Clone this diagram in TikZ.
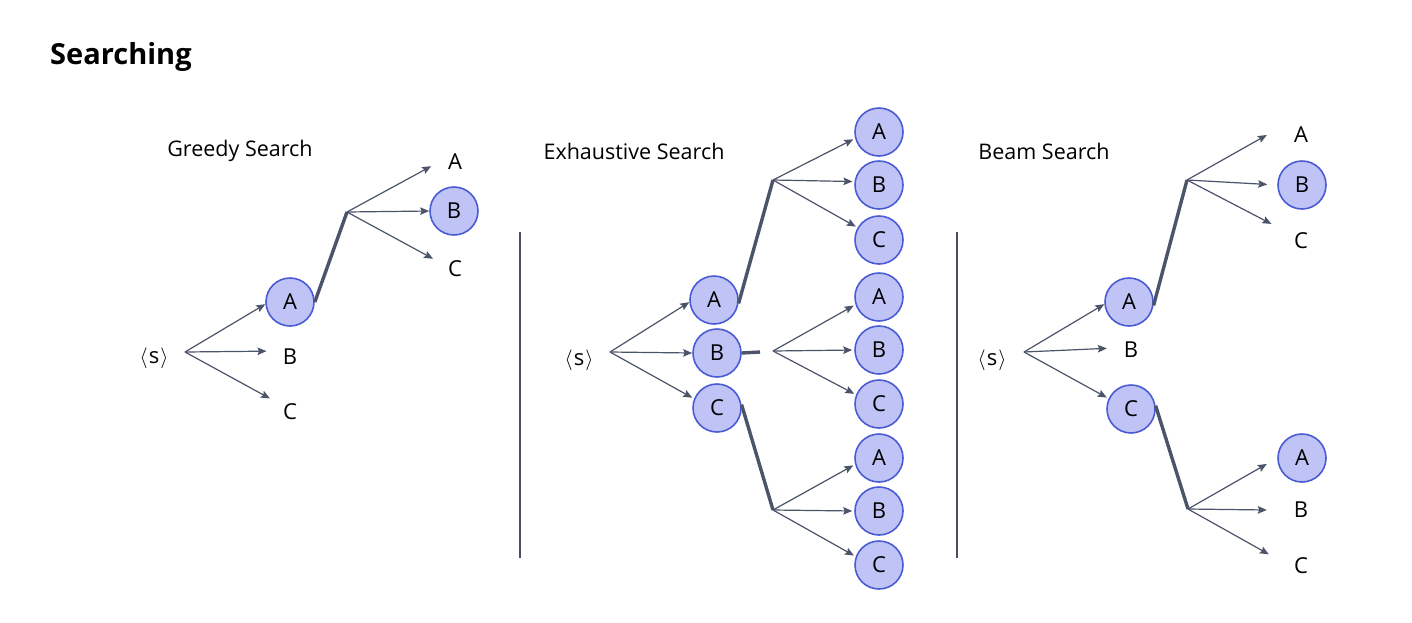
\documentclass[tikz,border=0pt]{standalone}
\usepackage{fontspec}
\setmainfont{Open Sans}
\usetikzlibrary{arrows.meta}
\definecolor{nodefill}{HTML}{BFC3F6}
\definecolor{nodeline}{HTML}{4A5CD4}
\definecolor{arrowc}{HTML}{4B5468}
\definecolor{sepc}{HTML}{4A5060}
\begin{document}
\begin{tikzpicture}[x=1pt,y=-1pt,
  sel/.style={circle,draw=nodeline,fill=nodefill,line width=1.6pt,minimum size=48pt,inner sep=0pt,font=\fontsize{22}{24}\selectfont},
  unsel/.style={circle,minimum size=48pt,inner sep=0pt,font=\fontsize{22}{24}\selectfont},
  unselwide/.style={circle,minimum size=68pt,inner sep=0pt,font=\fontsize{22}{24}\selectfont},
  start/.style={inner sep=0pt,font=\fontsize{22}{24}\selectfont},
  heading/.style={inner sep=0pt,font=\fontsize{21.5}{24}\selectfont},
  arr/.style={draw=arrowc,line width=1.2pt,-{Stealth[length=9pt,width=7.5pt,inset=1.5pt]}},
  chosen/.style={draw=arrowc,line width=3.4pt},
  sepline/.style={draw=sepc,line width=2.8pt}]
\useasboundingbox (0,0) rectangle (1412,622);
\fill[white] (0,0) rectangle (1412,622);

\node[anchor=west,inner sep=0pt,font=\bfseries\fontsize{29}{32}\selectfont] (title) at (50,57) {Searching};

% ---------------- Greedy ----------------
\node[heading] (gt) at (240,151) {Greedy Search};
\node[start] (gs) at (154,358) {$\langle$\kern1pt s\kern1pt$\rangle$};
\coordinate (g0) at (185,352);
\node[sel] (gA) at (290,302) {A};
\node[unsel] (gB) at (290,357) {B};
\node[unsel] (gC) at (290,412) {C};
\draw[arr] (g0) -- (gA.185);
\draw[arr] (g0) -- (gB.166);
\draw[arr] (g0) -- (gC.146);
\coordinate (g1) at (347,212);
\draw[chosen] (gA.east) -- (g1);
\node[unsel] (gA2) at (455,162) {A};
\node[sel] (gB2) at (454,211) {B};
\node[unsel] (gC2) at (455,269) {C};
\draw[arr] (g1) -- (gA2.190);
\draw[arr] (g1) -- (gB2.180);
\draw[arr] (g1) -- (gC2.155);

\coordinate (s1t) at (520,232);
\coordinate (s1b) at (520,558);
\draw[sepline] (s1t) -- (s1b);

% ---------------- Exhaustive ----------------
\node[heading] (et) at (634,151) {Exhaustive Search};
\node[start] (es) at (579,360) {$\langle$\kern1pt s\kern1pt$\rangle$};
\coordinate (e0) at (610,352);
\node[sel] (eA) at (714,300) {A};
\node[sel] (eB) at (717,353) {B};
\node[sel] (eC) at (717,408) {C};
\draw[arr] (e0) -- (eA.185);
\draw[arr] (e0) -- (eB.180);
\draw[arr,shorten >=2pt] (e0) -- (eC.158);
\coordinate (e1) at (773,180);
\coordinate (e2) at (773,351);
\coordinate (e3) at (773,510);
\coordinate (eBs) at (760,352);
\draw[chosen] (eA.-8) -- (e1);
\draw[chosen] (eB.east) -- (eBs);
\draw[chosen] (eC.8) -- (e3);
\node[sel] (eA1) at (879,132) {A};
\node[sel] (eB1) at (879,185) {B};
\node[sel] (eC1) at (879,240) {C};
\draw[arr,shorten >=2pt] (e1) -- (eA1.195);
\draw[arr,shorten >=2pt] (e1) -- (eB1.172);
\draw[arr,shorten >=2pt] (e1) -- (eC1.150);
\node[sel] (eA2) at (879,297) {A};
\node[sel] (eB2) at (879,350) {B};
\node[sel] (eC2) at (879,404) {C};
\draw[arr,shorten >=2pt] (e2) -- (eA2.198);
\draw[arr,shorten >=2pt] (e2) -- (eB2.180);
\draw[arr,shorten >=2pt] (e2) -- (eC2.158);
\node[sel] (eA3) at (879,458) {A};
\node[sel] (eB3) at (879,511) {B};
\node[sel] (eC3) at (879,565) {C};
\draw[arr,shorten >=2pt] (e3) -- (eA3.195);
\draw[arr,shorten >=2pt] (e3) -- (eB3.180);
\draw[arr,shorten >=2pt] (e3) -- (eC3.160);

\coordinate (s2t) at (957,232);
\coordinate (s2b) at (957,558);
\draw[sepline] (s2t) -- (s2b);

% ---------------- Beam ----------------
\node[heading] (bt) at (1044,151) {Beam Search};
\node[start] (bs) at (992,360) {$\langle$\kern1pt s\kern1pt$\rangle$};
\coordinate (b0) at (1024,352);
\node[sel] (bA) at (1129,302) {A};
\node[unsel] (bB) at (1131,350) {B};
\node[sel] (bC) at (1131,409) {C};
\draw[arr] (b0) -- (bA.185);
\draw[arr] (b0) -- (bB.176);
\draw[arr,shorten >=2pt] (b0) -- (bC.155);
\coordinate (b1) at (1187,180);
\coordinate (b2) at (1188,509);
\draw[chosen] (bA.-8) -- (b1);
\draw[chosen] (bC.8) -- (b2);
\node[unselwide] (bA1) at (1301,135) {A};
\node[sel] (bB1) at (1302,185) {B};
\node[unselwide] (bC1) at (1301,241) {C};
\draw[arr] (b1) -- (bA1.180);
\draw[arr,shorten >=10pt] (b1) -- (bB1.180);
\draw[arr] (b1) -- (bC1.150);
\node[sel] (bA2) at (1302,458) {A};
\node[unselwide] (bB2) at (1301,510) {B};
\node[unselwide] (bC2) at (1301,566) {C};
\draw[arr,shorten >=12pt] (b2) -- (bA2.180);
\draw[arr] (b2) -- (bB2.180);
\draw[arr] (b2) -- (bC2.160);
\end{tikzpicture}
\end{document}
